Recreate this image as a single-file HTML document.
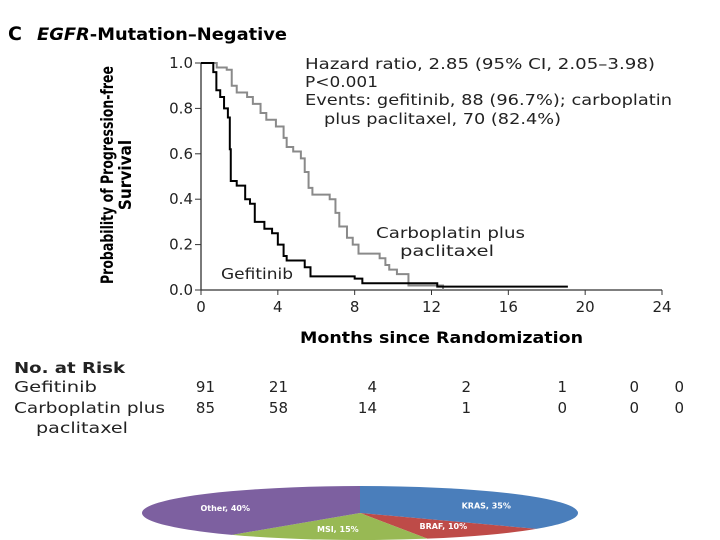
<!DOCTYPE html>
<html><head><meta charset="utf-8"><style>
body{margin:0;width:720px;height:540px;background:#fff;overflow:hidden;font-family:"DejaVu Sans","Liberation Sans",sans-serif;color:#111}
svg{position:absolute;left:0;top:0}
text{font-family:"DejaVu Sans","Liberation Sans",sans-serif}
</style></head><body>
<svg width="720" height="540">
<g id="kmg"></g>
<g id="pie"></g>
<text x="8" y="40" font-size="19" font-weight="bold">C</text>
<text x="37" y="40" font-size="17" font-weight="bold" textLength="250" lengthAdjust="spacingAndGlyphs"><tspan font-style="italic">EGFR</tspan>-Mutation–Negative</text>
<g transform="translate(116,175) rotate(-90)">
<text x="0" y="-3" font-size="17" text-anchor="middle" font-weight="bold" textLength="218" lengthAdjust="spacingAndGlyphs" style="font-family:'DejaVu Sans Condensed',sans-serif">Probability of Progression-free</text>
<text x="0" y="15" font-size="17" text-anchor="middle" font-weight="bold" style="font-family:'DejaVu Sans Condensed',sans-serif">Survival</text>
</g>
<g font-size="15" fill="#222">
<text x="305" y="69" textLength="350" lengthAdjust="spacingAndGlyphs">Hazard ratio, 2.85 (95% CI, 2.05–3.98)</text>
<text x="305" y="87" textLength="73" lengthAdjust="spacingAndGlyphs">P&lt;0.001</text>
<text x="305" y="105" textLength="367" lengthAdjust="spacingAndGlyphs">Events: gefitinib, 88 (96.7%); carboplatin</text>
<text x="324" y="124" textLength="237" lengthAdjust="spacingAndGlyphs">plus paclitaxel, 70 (82.4%)</text>
</g>
<text x="376" y="238" font-size="15" textLength="149" lengthAdjust="spacingAndGlyphs" fill="#222">Carboplatin plus</text>
<text x="400" y="256" font-size="15" textLength="94" lengthAdjust="spacingAndGlyphs" fill="#222">paclitaxel</text>
<text x="221" y="279" font-size="15" textLength="72" lengthAdjust="spacingAndGlyphs" fill="#222">Gefitinib</text>
<text x="300" y="343" font-size="16" font-weight="bold" textLength="283" lengthAdjust="spacingAndGlyphs">Months since Randomization</text>
<g font-size="15" fill="#222">
<text x="14" y="373" font-weight="bold" textLength="111" lengthAdjust="spacingAndGlyphs">No. at Risk</text>
<text x="14" y="392" textLength="83" lengthAdjust="spacingAndGlyphs">Gefitinib</text>
<text x="14" y="413" textLength="151" lengthAdjust="spacingAndGlyphs">Carboplatin plus</text>
<text x="36" y="433" textLength="92" lengthAdjust="spacingAndGlyphs">paclitaxel</text>
</g>
<g id="risk" font-size="15" text-anchor="end" fill="#222"></g>
</svg>
<script>
const xTicks=[0,4,8,12,16,20,24];
const yTicks=[0,0.2,0.4,0.6,0.8,1.0];
const gefT=[0,0.64,0.8,1.0,1.2,1.4,1.5,1.55,1.86,2.3,2.55,2.8,3.3,3.7,4.0,4.3,4.46,5.4,5.7,8.0,8.4,12.3,19.1];
const gefS=[1.0,0.96,0.88,0.85,0.80,0.76,0.62,0.48,0.46,0.40,0.38,0.30,0.27,0.25,0.20,0.15,0.13,0.10,0.06,0.05,0.03,0.015,0.015];
const carT=[0,0.82,1.34,1.6,1.86,2.4,2.7,3.1,3.4,3.9,4.3,4.46,4.8,5.2,5.4,5.6,5.8,6.7,7.0,7.2,7.6,7.9,8.2,9.3,9.6,9.8,10.2,10.8,12.6];
const carS=[1.0,0.98,0.97,0.90,0.87,0.85,0.82,0.78,0.75,0.72,0.67,0.63,0.61,0.58,0.52,0.45,0.42,0.40,0.34,0.28,0.23,0.20,0.16,0.14,0.11,0.09,0.07,0.02,0.0];
const riskGef=["91","21","4","2","1","0","0"];
const riskCar=["85","58","14","1","0","0","0"];
const pieLabels=["KRAS, 35%","BRAF, 10%","MSI, 15%","Other, 40%"];
const pieValues=[35,10,15,40];
const pieColors=["#4a7ebb","#be4b48","#98b954","#7d60a0"];

const NS="http://www.w3.org/2000/svg";
const X=t=>201+t*(461/24), Y=s=>290-s*227;
function mk(p,tag,a){const e=document.createElementNS(NS,tag);for(const k in a)e.setAttribute(k,a[k]);p.appendChild(e);return e;}
const g=document.getElementById('kmg');
const ax=mk(g,'path',{d:`M${X(0)},${Y(1)}V${Y(0)}H${X(24)}`,stroke:'#333',fill:'none','stroke-width':1.3});


xTicks.forEach(t=>{const l=mk(g,'line',{x1:X(t),x2:X(t),y1:Y(0),y2:Y(0)+5,stroke:'#333'});


const tx=mk(g,'text',{x:X(t),y:Y(0)+22,'font-size':15,'text-anchor':'middle',fill:'#222'});tx.textContent=t;

});
yTicks.forEach(s=>{const l=mk(g,'line',{x1:X(0)-6,x2:X(0),y1:Y(s),y2:Y(s),stroke:'#333'});


const tx=mk(g,'text',{x:X(0)-8,y:Y(s)+5,'font-size':15,'text-anchor':'end',fill:'#222'});tx.textContent=s.toFixed(1);

});
function step(T,S){let d=`M${X(T[0])},${Y(S[0])}`;for(let i=1;i<T.length;i++){d+=`H${X(T[i])}V${Y(S[i])}`;}return d;}
const c=mk(g,'path',{d:step(carT,carS),stroke:'#8a8a8a',fill:'none','stroke-width':2});


const gf=mk(g,'path',{d:step(gefT,gefS),stroke:'#000',fill:'none','stroke-width':2});


const rx=[215,288,377,471,567,639,684];
const rg=document.getElementById('risk');
riskGef.forEach((v,i)=>{const t=mk(rg,'text',{x:rx[i],y:392});t.textContent=v;

});
riskCar.forEach((v,i)=>{const t=mk(rg,'text',{x:rx[i],y:413});t.textContent=v;

});
// pie
const pg=document.getElementById('pie');
const cx=360,cy=513,RX=218,RY=27;
const tot=pieValues.reduce((a,b)=>a+b,0);let acc=0;
pieValues.forEach((v,i)=>{const a0=acc/tot*2*Math.PI;acc+=v;const a1=acc/tot*2*Math.PI;
const p=a=>[cx+RX*Math.sin(a),cy-RY*Math.cos(a)];
const [x0,y0]=p(a0),[x1,y1]=p(a1);const large=(a1-a0)>Math.PI?1:0;
const s=mk(pg,'path',{d:`M${cx},${cy}L${x0},${y0}A${RX},${RY} 0 ${large} 1 ${x1},${y1}Z`,fill:pieColors[i]});


const am=(a0+a1)/2;const [lx,ly]=[cx+RX*0.65*Math.sin(am),cy-RY*0.6*Math.cos(am)];
const t=mk(pg,'text',{x:lx,y:ly+3,'font-size':8,fill:'#fff','text-anchor':'middle','font-weight':'bold'});t.textContent=pieLabels[i];

});
</script>
</body></html>
